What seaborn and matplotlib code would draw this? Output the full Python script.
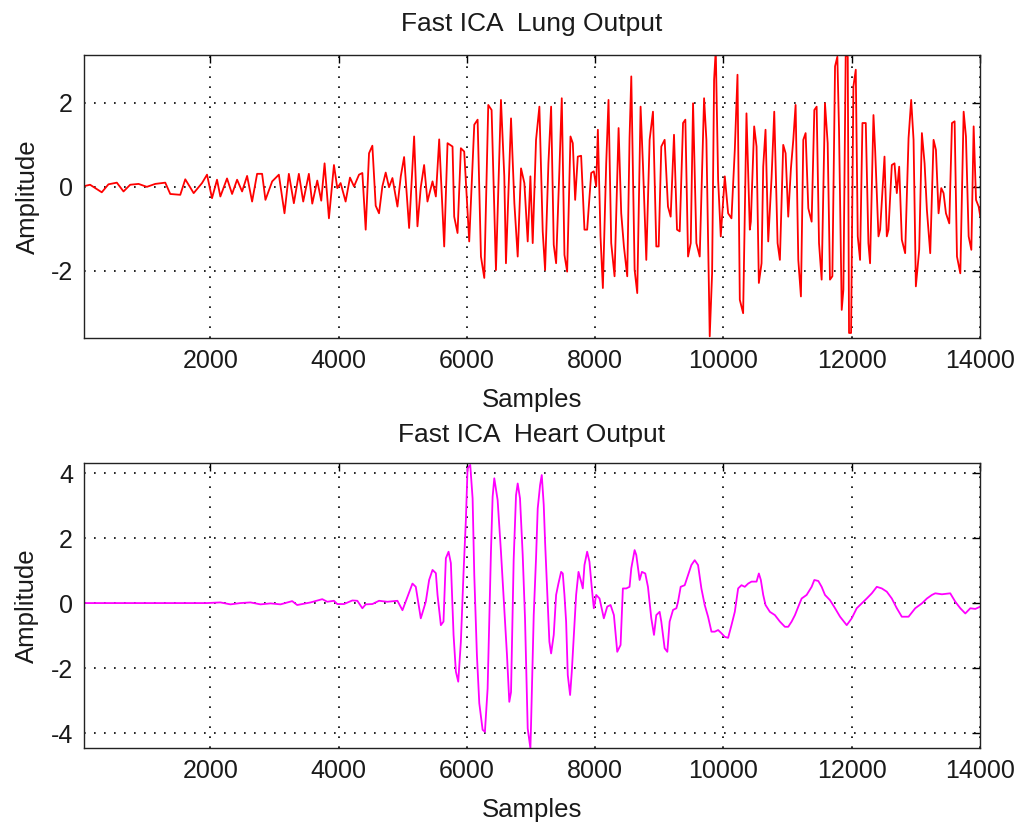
import numpy as np
import pandas as pd
import matplotlib
matplotlib.use("Agg")
import matplotlib.pyplot as plt
import seaborn as sns
from matplotlib import font_manager

# ---------------- data ----------------
lung_samples = [40, 125, 307, 411, 542, 646, 750, 880, 1010, 1141, 1297, 1375, 1531, 1609, 1740, 1870,
                1948, 2026, 2104, 2156, 2260, 2339, 2417, 2495, 2573, 2651, 2729, 2807, 2859, 2964, 3068,
                3156, 3224, 3302, 3380, 3448, 3536,
                3589, 3667, 3729, 3781, 3849, 3927, 3979, 4031, 4109, 4177, 4240, 4318, 4370, 4422, 4474,
                4526, 4578, 4630, 4682, 4734, 4786, 4839, 4917, 4969, 5021, 5099, 5177, 5229, 5281, 5333,
                5385, 5464, 5516, 5568, 5646, 5698, 5776, 5802, 5854, 5906, 5958, 6036, 6115, 6167, 6219,
                6271, 6333, 6385, 6453, 6531, 6583, 6609, 6688, 6740, 6792, 6844, 6896, 6948, 6990,
                7026, 7078, 7130, 7182, 7219, 7271, 7313, 7354, 7391, 7443, 7479, 7521, 7563, 7615, 7651,
                7688, 7729, 7781, 7833, 7875, 7938, 7979, 8016, 8042, 8083, 8120, 8172, 8208, 8250, 8302,
                8365, 8406, 8448, 8500, 8536, 8563, 8615, 8656, 8708, 8745, 8797, 8849, 8901, 8953, 8990,
                9031, 9083, 9135, 9177, 9229, 9276, 9318, 9370, 9406, 9448, 9490, 9526, 9578, 9630, 9698,
                9734, 9786, 9823, 9854, 9880, 9917, 9958, 10021, 10073, 10125, 10177, 10219, 10255, 10307,
                10359, 10411,
                10427, 10479, 10516, 10552, 10594, 10620, 10656, 10698, 10750, 10792, 10844, 10880, 10932,
                10969, 11010, 11052, 11089, 11125, 11167, 11208, 11245, 11281, 11323, 11375, 11417, 11453,
                11490, 11531, 11583, 11625, 11661, 11698, 11740, 11776, 11802, 11844, 11870, 11906, 11938,
                11958, 11990, 12026, 12063, 12094, 12130, 12167, 12219, 12260, 12286, 12339, 12365, 12417,
                12443, 12511, 12547, 12573, 12625, 12667, 12703, 12740, 12781, 12833, 12886, 12927, 12964,
                13000, 13052, 13094, 13136, 13172, 13224, 13276, 13313, 13354, 13396, 13432, 13469, 13521,
                13563, 13604, 13641, 13693, 13745, 13781, 13823, 13865, 13901, 13938, 13979, 14005]
lung_amp = [0.02, 0.05, -0.13, 0.06, 0.10, -0.11, 0.05, 0.07, 0.00, 0.07, 0.10, -0.17, -0.19, 0.18, -0.15, 0.09,
            0.29, -0.27, 0.17, -0.23, 0.20, -0.17, 0.17, -0.11, 0.26, -0.35, 0.31, 0.31, -0.31, 0.13, 0.29,
            -0.63, 0.31, -0.39, 0.31, -0.35, 0.31,
            -0.40, 0.15, -0.33, 0.56, -0.75, 0.52, -0.03, 0.09, -0.35, 0.22, 0.01, 0.29, 0.33, -1.02, 0.80,
            0.98, -0.45, -0.63, 0.01, 0.34, -0.01, 0.21, -0.47, 0.25, 0.71, -0.98, 1.20, -0.94, -0.01, 0.52,
            -0.35, 0.13, -0.23, 1.13, -1.42, 1.04, 0.96, -0.71, -1.10, 0.92, 0.84, -1.30, 1.48, 1.60, -1.66,
            -2.17, 1.95, 1.83, -1.98, 2.07, 0.25, -1.82, 1.63, -0.39, -1.66, 0.44, 0.09, -1.30, 0.25,
            -1.34, 1.12, 1.91, -1.06, -1.98, 0.56, 1.91, -1.38, -1.82, 0.44, 2.11, -1.62, -2.02, 1.20, 1.04,
            -0.31, 0.72, 0.74, -1.02, -1.02, 0.33, 0.37, 0.01, 1.36, -1.18, -2.41, 0.56, 2.07, -1.34, -2.13,
            1.40, -0.63, -1.42, -2.13, 1.16, 2.63, -1.98, -2.53, 1.91, 0.52, -1.74, 1.12, 1.79, -1.42, -1.42,
            0.96, 1.12, -0.47, -0.71, 1.24, -1.02, -1.06, 1.52, 1.60, -1.66, -1.34, 1.99, -1.34, -1.66, 2.11,
            1.12, -3.56, -2.06, 2.55, 3.26, 0.17, -1.18, 0.25, -0.63, -0.75, 0.88, 2.67, -2.69, -3.01,
            1.75, -1.02,
            -0.83, 1.44, 0.96, -2.29, -1.82, 0.48, 1.36, -1.30, 0.21, 1.79, -1.34, -1.74, 1.00,
            0.80, -0.71, 0.44, 1.12, 1.95, -1.74, -2.61, 1.12, 1.28, -0.51, -0.83, 1.83, 1.91,
            -1.34, -2.21, 1.99, 1.04, -2.21, -2.13, 2.87, 3.10, 1.36, -2.93, -2.45, 3.14, 3.10,
            -3.48, -3.48, 2.39, 2.79, -1.18, -1.74, 1.52, 1.52, -1.34, -1.82, 1.71, 0.88, -1.18,
            -1.02, 0.72, -1.18, -1.02, 0.52, 0.56, -0.15, 0.48, -1.26, -1.58, 1.16, 2.07, 1.12,
            -2.37, -1.50, 1.28, 0.56, -0.55, -1.58, 1.12, 0.88, -0.63, -0.03, -0.15, -0.63, -0.87,
            1.52, 1.56, -1.66, -2.06, 1.79, 1.20, -1.18, -1.50, 1.44, -0.31, -0.47, -0.71]

heart_samples = [1, 1948, 2156, 2313, 2469, 2625, 2781, 2938, 3094, 3276, 3354, 3563, 3745, 3823, 3927, 3979,
                 4083, 4214, 4292, 4370, 4422, 4526, 4630, 4760, 4917, 4995, 5073, 5151, 5203, 5281, 5359,
                 5411, 5464, 5516, 5542, 5594, 5635, 5672, 5714, 5750, 5792, 5828, 5865, 5906, 5948, 5984,
                 6010, 6052, 6089, 6115, 6156, 6193, 6245, 6281, 6323, 6375, 6401, 6427, 6479, 6531, 6583,
                 6625, 6661, 6688, 6729, 6766, 6792, 6828, 6870, 6906, 6948, 6990, 7000, 7042, 7078, 7104,
                 7141, 7167, 7198, 7219, 7260, 7286, 7313, 7354, 7391, 7427, 7469, 7495, 7521, 7547, 7573,
                 7609, 7635, 7667, 7703, 7740, 7781, 7807, 7833, 7875, 7911, 7948, 7979, 8016, 8068, 8135,
                 8188, 8240, 8292, 8344, 8396, 8432, 8484, 8536, 8563, 8615, 8641, 8693, 8729, 8781, 8823,
                 8875, 8917, 8953, 9005, 9031, 9083, 9125, 9161, 9214, 9266, 9292, 9333, 9396, 9448, 9500,
                 9552, 9604, 9656, 9708, 9760, 9813, 9865, 9917, 9969, 10021, 10073, 10125, 10177, 10229,
                 10281, 10333, 10385, 10438, 10464, 10516, 10552, 10583, 10620, 10656, 10724, 10802, 10880,
                 10958, 11010, 11063, 11115, 11167, 11219, 11297, 11375, 11417, 11479, 11531, 11583, 11661,
                 11740, 11818, 11922, 12000, 12078, 12156, 12234, 12313, 12391, 12469, 12547, 12625, 12703,
                 12781, 12886, 12990, 13094, 13172, 13250, 13302, 13406, 13536, 13615, 13693, 13771, 13849,
                 13927, 14005]
heart_amp = [0.0, 0.0, 0.02, -0.04, 0.0, 0.02, -0.04, -0.01, -0.04, 0.06, -0.06, 0.02, 0.12, 0.04, 0.07, -0.03,
             -0.03, 0.08, 0.07, -0.16, -0.04, -0.03, 0.07, 0.04, 0.07, -0.22, 0.19, 0.60, 0.50, -0.47, 0.04,
             0.71, 1.02, 0.92, 0.25, -0.68, -0.57, 1.38, 1.58, 1.23, -0.98, -2.11, -2.42, -1.19, 0.96, 2.55,
             4.14, 4.25, 3.22, 0.86, -1.60, -3.08, -3.90, -3.96, -2.63, 1.58, 3.27, 3.84, 3.17, 1.58, -0.16,
             -1.60, -3.04, -2.74, 1.32, 3.32, 3.68, 3.22, 1.48, -0.47, -3.86, -4.47, -3.75, -0.37, 1.38, 2.91,
             3.63, 3.94, 3.02, 1.88, 0.04, -1.19, -1.55, -0.98, 0.25, 0.60, 0.96, 0.91, 0.25, -0.57, -2.22,
             -2.83, -2.12, -0.98, 0.25, 0.96, 0.66, 0.45, 1.17, 1.58, 1.27, 0.45, -0.16, 0.25, 0.14, -0.47,
             -0.11, -0.06, -0.37, -1.50, -1.29, 0.45, 0.45, 0.50, 1.07, 1.63, 1.48, 0.71, 0.96, 0.91, 0.50,
             -0.47, -0.98, -0.37, -0.27, -0.57, -1.39, -1.50, -0.57, -0.21, -0.16, 0.04, 0.50, 0.55, 0.86, 1.17,
             1.32, 1.17, 0.45, -0.06, -0.42, -0.88, -0.88, -0.83, -0.93, -1.04, -1.07, -0.68, -0.27, 0.45,
             0.55, 0.50, 0.60, 0.66, 0.66, 0.66, 0.91, 0.71, 0.25, -0.06, -0.27, -0.37, -0.57,
             -0.73, -0.73, -0.57, -0.37, -0.11, 0.14, 0.25, 0.50, 0.71, 0.68, 0.50, 0.25, 0.09,
             -0.16, -0.42, -0.68, -0.47, -0.16, -0.01, 0.14, 0.30, 0.50, 0.45, 0.35, 0.14, -0.16,
             -0.42, -0.42, -0.16, -0.01, 0.14, 0.25, 0.30, 0.27, 0.30, 0.04, -0.16, -0.32, -0.16,
             -0.18, -0.11]

x_ticks = [2000, 4000, 6000, 8000, 10000, 12000, 14000]
lung_yticks = [-2, 0, 2]
heart_yticks = [-4, -2, 0, 2, 4]
titles = ["Fast ICA  Lung Output", "Fast ICA  Heart Output"]
x_label = "Samples"
y_label = "Amplitude"

# ---------------- style ----------------
sns.set_style("white")
plt.rcParams["font.family"] = ["Liberation Sans", "DejaVu Sans"]

names = {f.name for f in font_manager.fontManager.ttflist}
if "Liberation Sans Narrow" in names:
    xtick_family = ["Liberation Sans Narrow", "Liberation Sans"]
    xtick_size = 21.5
else:
    xtick_family = ["Liberation Sans", "DejaVu Sans"]
    xtick_size = 18

W, H = 1019, 823
fig = plt.figure(figsize=(W / 100, H / 100), dpi=100)
fig.patch.set_facecolor("white")

left, right = 84, 980
ax_top = fig.add_axes([left / W, 1 - 338 / H, (right - left) / W, (338 - 55) / H])
ax_bot = fig.add_axes([left / W, 1 - 748 / H, (right - left) / W, (748 - 463) / H])

lung_df = pd.DataFrame({"Samples": lung_samples, "Amplitude": lung_amp})
heart_df = pd.DataFrame({"Samples": heart_samples, "Amplitude": heart_amp})

sns.lineplot(data=lung_df, x="Samples", y="Amplitude", ax=ax_top, color="#ff0000",
             linewidth=1.3, estimator=None, sort=False)
sns.lineplot(data=heart_df, x="Samples", y="Amplitude", ax=ax_bot, color="#ff00ff",
             linewidth=1.3, estimator=None, sort=False)

specs = [(ax_top, (-3.6, 3.14), lung_yticks, titles[0], 17),
         (ax_bot, (-4.46, 4.31), heart_yticks, titles[1], 15)]
for ax, ylim, yt, title, tpad in specs:
    ax.set_xlim(30, 14000)
    ax.set_ylim(*ylim)
    ax.set_xticks(x_ticks)
    ax.set_yticks(yt)
    ax.set_xticklabels([str(t) for t in x_ticks], family=xtick_family, fontsize=xtick_size)
    ax.set_yticklabels([str(t) for t in yt], fontsize=18)
    ax.tick_params(direction="in", top=True, right=True, length=6, width=1,
                   color="black", labelcolor="#1a1a1a")
    ax.tick_params(axis="x", pad=8)
    ax.tick_params(axis="y", pad=8)
    ax.grid(True, color="black", linestyle=(0, (1, 5)), linewidth=1.2)
    for s in ax.spines.values():
        s.set_visible(True)
        s.set_color("#222222")
        s.set_linewidth(1.0)
    ax.set_title(title, fontsize=19, pad=tpad, color="#1a1a1a")
    ax.set_xlabel(x_label, fontsize=18.5, labelpad=11, color="#1a1a1a")
    ax.set_ylabel(y_label, fontsize=18.5, labelpad=8, color="#1a1a1a")
    ax.set_facecolor("white")

fig.savefig("out.png", dpi=100, facecolor="white")
